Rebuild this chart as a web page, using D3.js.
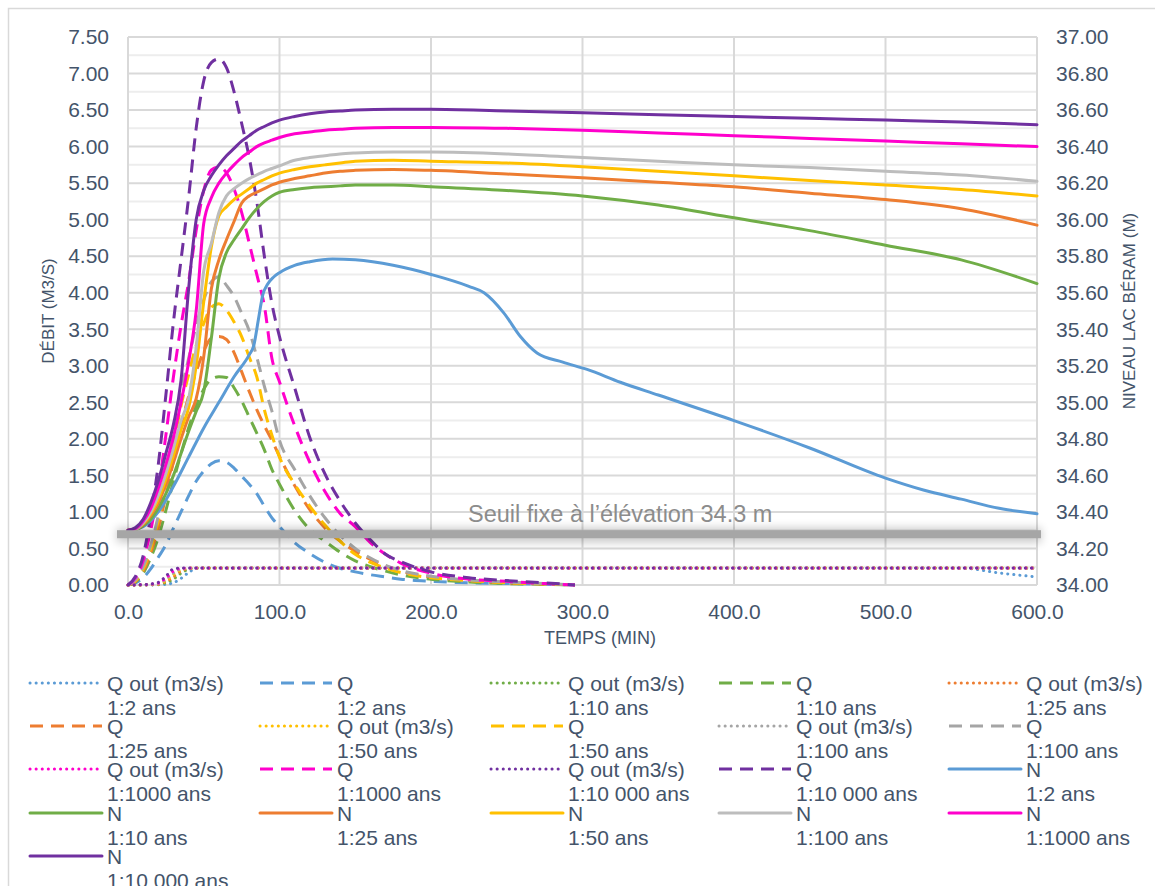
<!DOCTYPE html>
<html>
<head>
<meta charset="utf-8">
<script src="https://cdn.jsdelivr.net/npm/d3@7"></script>
<style>
  html, body { margin: 0; padding: 0; background: #fff; }
  svg { display: block; font-family: "Liberation Sans", Arial, sans-serif; }
</style>
</head>
<body>
<svg id="chart" width="1155" height="886"></svg>
<script>
// ---- Return periods ----
const periods = ["1:2 ans", "1:10 ans", "1:25 ans", "1:50 ans", "1:100 ans", "1:1000 ans", "1:10 000 ans"];

// ---- Inflow hydrographs Q (m3/s), time in minutes ----
const tQ = [0, 5, 10, 15, 20, 25, 30, 35, 40, 45, 50, 55, 60, 65, 70, 75, 80, 85, 90, 95, 100,
            110, 120, 130, 140, 150, 160, 170, 180, 200, 225, 250, 275, 295];
const qIn2     = [0, 0.03, 0.10, 0.22, 0.38, 0.55, 0.78, 1.00, 1.22, 1.42, 1.56, 1.66, 1.70, 1.68, 1.60, 1.49, 1.38, 1.25, 1.08, 0.92, 0.80,
                  0.58, 0.43, 0.31, 0.23, 0.18, 0.14, 0.11, 0.08, 0.05, 0.03, 0.02, 0.01, 0];
const qIn10    = [0, 0.04, 0.16, 0.37, 0.65, 1.02, 1.42, 1.80, 2.15, 2.45, 2.68, 2.82, 2.85, 2.84, 2.70, 2.52, 2.30, 2.08, 1.85, 1.58, 1.38,
                  1.02, 0.76, 0.60, 0.45, 0.33, 0.25, 0.19, 0.14, 0.08, 0.04, 0.02, 0.01, 0];
const qIn25    = [0, 0.05, 0.19, 0.44, 0.78, 1.22, 1.70, 2.18, 2.58, 2.92, 3.20, 3.38, 3.40, 3.36, 3.18, 2.92, 2.65, 2.40, 2.18, 1.98, 1.76,
                  1.36, 1.03, 0.78, 0.60, 0.46, 0.35, 0.26, 0.19, 0.11, 0.06, 0.03, 0.015, 0];
const qIn50    = [0, 0.06, 0.22, 0.50, 0.88, 1.38, 1.92, 2.45, 2.88, 3.28, 3.58, 3.80, 3.85, 3.76, 3.60, 3.40, 3.12, 2.85, 2.40, 2.05, 1.75,
                  1.38, 1.08, 0.82, 0.60, 0.42, 0.31, 0.23, 0.17, 0.10, 0.06, 0.03, 0.015, 0];
const qIn100   = [0, 0.07, 0.25, 0.55, 0.95, 1.50, 2.10, 2.65, 3.10, 3.55, 3.90, 4.15, 4.22, 4.10, 3.95, 3.72, 3.48, 3.12, 2.72, 2.38, 1.98,
                  1.58, 1.22, 0.92, 0.68, 0.50, 0.37, 0.27, 0.20, 0.12, 0.07, 0.04, 0.02, 0];
const qIn1000  = [0, 0.10, 0.33, 0.75, 1.30, 2.05, 2.85, 3.55, 4.15, 4.85, 5.40, 5.68, 5.72, 5.64, 5.42, 5.10, 4.68, 4.25, 3.82, 3.10, 2.78,
                  2.18, 1.68, 1.28, 0.98, 0.80, 0.58, 0.42, 0.30, 0.16, 0.08, 0.05, 0.02, 0];
const qIn10000 = [0, 0.12, 0.40, 0.95, 1.65, 2.60, 3.60, 4.45, 5.30, 6.25, 6.90, 7.15, 7.20, 7.08, 6.75, 6.32, 5.85, 5.25, 4.50, 3.85, 3.40,
                  2.70, 2.02, 1.52, 1.15, 0.85, 0.62, 0.42, 0.32, 0.18, 0.10, 0.06, 0.03, 0];

// ---- Outflow Q out (m3/s) ----
const tOut = [0, 10, 15, 20, 25, 30, 35, 40, 45, 50, 550, 575, 600];
const qOut2     = [0, 0, 0, 0.003, 0.01, 0.03, 0.09, 0.17, 0.225, 0.232, 0.232, 0.165, 0.11];
const qOut10    = [0, 0, 0.002, 0.008, 0.03, 0.08, 0.16, 0.215, 0.232, 0.232, 0.232, 0.232, 0.232];
const qOut25    = [0, 0, 0.003, 0.01, 0.045, 0.11, 0.19, 0.225, 0.232, 0.232, 0.232, 0.232, 0.232];
const qOut50    = [0, 0.002, 0.005, 0.015, 0.06, 0.14, 0.21, 0.23, 0.232, 0.232, 0.232, 0.232, 0.232];
const qOut100   = [0, 0.002, 0.007, 0.02, 0.075, 0.16, 0.22, 0.232, 0.232, 0.232, 0.232, 0.232, 0.232];
const qOut1000  = [0, 0.003, 0.01, 0.025, 0.095, 0.19, 0.228, 0.232, 0.232, 0.232, 0.232, 0.232, 0.232];
const qOut10000 = [0, 0.005, 0.015, 0.035, 0.12, 0.22, 0.232, 0.232, 0.232, 0.232, 0.232, 0.232, 0.232];

// ---- Lake level N (m) ----
const tN2 = [0, 10, 20, 30, 40, 50, 60, 70, 80, 83, 86, 89, 92, 96, 100, 110, 120, 135, 150, 175, 200, 225,
             235, 248, 259, 270, 287, 303, 325, 350, 400, 450, 500, 525, 550, 575, 600];
const n2  = [34.30, 34.32, 34.40, 34.54, 34.70, 34.86, 35.00, 35.14, 35.26, 35.31, 35.45, 35.59, 35.645, 35.685, 35.71, 35.75, 35.77, 35.785, 35.78, 35.75, 35.70, 35.635,
             35.60, 35.49, 35.36, 35.27, 35.22, 35.18, 35.11, 35.04, 34.90, 34.75, 34.585, 34.52, 34.47, 34.42, 34.39];

const tN = [0, 5, 10, 15, 20, 25, 30, 35, 40, 45, 50, 55, 60, 65, 70, 75, 80, 85, 90, 95, 100,
            110, 120, 130, 140, 150, 175, 200, 250, 300, 350, 400, 450, 500, 550, 600];
const n10    = [34.30, 34.303, 34.325, 34.36, 34.42, 34.50, 34.60, 34.72, 34.84, 34.95, 35.06, 35.35, 35.68, 35.82, 35.89, 35.95, 36.01, 36.06, 36.10, 36.13, 36.15,
                36.165, 36.175, 36.18, 36.185, 36.19, 36.19, 36.18, 36.16, 36.13, 36.08, 36.01, 35.94, 35.86, 35.78, 35.65];
const n25    = [34.30, 34.305, 34.33, 34.38, 34.45, 34.55, 34.67, 34.80, 34.92, 35.02, 35.25, 35.62, 35.78, 35.89, 35.99, 36.09, 36.13, 36.15, 36.17, 36.19, 36.205,
                36.225, 36.24, 36.255, 36.265, 36.27, 36.275, 36.27, 36.25, 36.23, 36.205, 36.18, 36.145, 36.11, 36.06, 35.97];
const n50    = [34.30, 34.305, 34.335, 34.39, 34.47, 34.58, 34.71, 34.85, 34.97, 35.20, 35.55, 35.85, 36.02, 36.07, 36.11, 36.14, 36.17, 36.20, 36.22, 36.24, 36.255,
                36.275, 36.29, 36.30, 36.31, 36.32, 36.325, 36.32, 36.31, 36.29, 36.265, 36.24, 36.215, 36.19, 36.165, 36.13];
const n100   = [34.30, 34.305, 34.34, 34.40, 34.49, 34.61, 34.75, 34.90, 35.02, 35.30, 35.72, 35.87, 36.04, 36.13, 36.17, 36.20, 36.225, 36.245, 36.265, 36.28, 36.295,
                36.325, 36.34, 36.35, 36.36, 36.365, 36.37, 36.37, 36.36, 36.34, 36.32, 36.30, 36.285, 36.265, 36.245, 36.21];
const n1000  = [34.30, 34.31, 34.35, 34.42, 34.53, 34.66, 34.81, 35.00, 35.22, 35.50, 35.98, 36.12, 36.20, 36.255, 36.30, 36.34, 36.37, 36.40, 36.42, 36.435, 36.45,
                36.47, 36.48, 36.49, 36.495, 36.50, 36.505, 36.505, 36.50, 36.49, 36.475, 36.46, 36.445, 36.43, 36.415, 36.40];
const n10000 = [34.30, 34.315, 34.36, 34.45, 34.57, 34.72, 34.88, 35.12, 35.62, 36.00, 36.16, 36.24, 36.30, 36.35, 36.39, 36.43, 36.46, 36.49, 36.51, 36.53, 36.545,
                36.565, 36.58, 36.59, 36.595, 36.60, 36.605, 36.605, 36.595, 36.585, 36.575, 36.565, 36.555, 36.545, 36.535, 36.52];

// ---- Axis ticks ----
const xTicks  = [0, 100, 200, 300, 400, 500, 600];
const yLTicks = d3.range(0, 7.51, 0.5);
const yRTicks = d3.range(34, 37.001, 0.2);
const seuil = 34.3;

// ---- Colours per return period ----
const palette = ["#5B9BD5", "#70AD47", "#ED7D31", "#FFC000", "#A5A5A5", "#FF00CC", "#7030A0"];
const paletteN = ["#5B9BD5", "#70AD47", "#ED7D31", "#FFC000", "#BDBDBD", "#FF00CC", "#7030A0"];

const qIn  = [qIn2, qIn10, qIn25, qIn50, qIn100, qIn1000, qIn10000];
const qOut = [qOut2, qOut10, qOut25, qOut50, qOut100, qOut1000, qOut10000];
const nLev = [n2, n10, n25, n50, n100, n1000, n10000];

// Series in drawing order: for each period, Q out then Q; then every N
const series = [];
periods.forEach((p, i) => {
  series.push({ name: "Q out (m3/s)", period: p, kind: "out", color: palette[i],
                pts: tOut.map((t, k) => [t, qOut[i][k]]), axis: "L" });
  series.push({ name: "Q", period: p, kind: "in", color: palette[i],
                pts: tQ.map((t, k) => [t, qIn[i][k]]), axis: "L" });
});
periods.forEach((p, i) => {
  const tt = i === 0 ? tN2 : tN;
  series.push({ name: "N", period: p, kind: "lev", color: paletteN[i],
                pts: tt.map((t, k) => [t, nLev[i][k]]), axis: "R" });
});

const styleOf = {
  out: { dash: "0.1,6", cap: "round", w: 3 },
  in:  { dash: "13,8", cap: "butt", w: 3 },
  lev: { dash: null, cap: "round", w: 3 }
};

// ---- Layout ----
const svg = d3.select("#chart");
const L = 128, R = 1037, T = 37, B = 585;
const x  = d3.scaleLinear([0, 600], [L, R]);
const yL = d3.scaleLinear([0, 7.5], [B, T]);
const yR = d3.scaleLinear([34, 37], [B, T]);
const txt = "#44546A";

// outer chart border
svg.append("rect").attr("x", 8.5).attr("y", 8.5).attr("width", 1160).attr("height", 900)
  .attr("fill", "none").attr("stroke", "#D9D9D9").attr("stroke-width", 1.5);

// minor horizontal gridlines
const minor = d3.range(0.25, 7.5, 0.5);
svg.append("g").selectAll("line").data(minor).join("line")
  .attr("x1", L).attr("x2", R).attr("y1", d => yL(d)).attr("y2", d => yL(d))
  .attr("stroke", "#EDEDED").attr("stroke-width", 2);
// major horizontal gridlines
svg.append("g").selectAll("line").data(yLTicks).join("line")
  .attr("x1", L).attr("x2", R).attr("y1", d => yL(d)).attr("y2", d => yL(d))
  .attr("stroke", "#D9D9D9").attr("stroke-width", 2);
// vertical gridlines
svg.append("g").selectAll("line").data(xTicks).join("line")
  .attr("x1", d => x(d)).attr("x2", d => x(d)).attr("y1", T).attr("y2", B)
  .attr("stroke", "#D9D9D9").attr("stroke-width", 2);

// axes (labels only)
const fmt2 = d3.format(".2f"), fmt1 = d3.format(".1f");
const gx = svg.append("g").attr("transform", `translate(0,${B})`)
  .call(d3.axisBottom(x).tickValues(xTicks).tickFormat(fmt1).tickSize(0).tickPadding(19));
const gl = svg.append("g").attr("transform", `translate(${L},0)`)
  .call(d3.axisLeft(yL).tickValues(yLTicks).tickFormat(fmt2).tickSize(0).tickPadding(19));
const gr = svg.append("g").attr("transform", `translate(${R},0)`)
  .call(d3.axisRight(yR).tickValues(yRTicks).tickFormat(fmt2).tickSize(0).tickPadding(19));
[gx, gl, gr].forEach(g => {
  g.select(".domain").remove();
  g.selectAll("text").attr("fill", txt).style("font-size", "21px")
    .style("font-family", "'Liberation Sans', Arial, sans-serif");
});

// axis titles
svg.append("text").attr("x", 600).attr("y", 644).attr("text-anchor", "middle")
  .attr("fill", txt).style("font-size", "18px").text("TEMPS (MIN)");
svg.append("text").attr("transform", `translate(54,${(T + B) / 2}) rotate(-90)`)
  .attr("text-anchor", "middle").attr("fill", txt).style("font-size", "17px").text("DÉBIT (M3/S)");
svg.append("text").attr("transform", `translate(1135,${(T + B) / 2}) rotate(-90)`)
  .attr("text-anchor", "middle").attr("fill", txt).style("font-size", "17px").text("NIVEAU LAC BÉRAM (M)");

// series
const plot = svg.append("g");
series.forEach(s => {
  const ys = s.axis === "L" ? yL : yR;
  const st = styleOf[s.kind];
  const line = d3.line().x(d => x(d[0])).y(d => ys(d[1])).curve(d3.curveMonotoneX);
  plot.append("path").datum(s.pts).attr("d", line)
    .attr("fill", "none").attr("stroke", s.color).attr("stroke-width", st.w)
    .attr("stroke-linecap", st.cap).attr("stroke-linejoin", "round")
    .attr("stroke-dasharray", st.dash);
});

// fixed spillway sill at 34.3 m
const defs = svg.append("defs");
defs.append("filter").attr("id", "soft").attr("x", "-5%").attr("y", "-300%")
  .attr("width", "110%").attr("height", "700%")
  .append("feGaussianBlur").attr("stdDeviation", 5);
const sy = yR(seuil);
svg.append("rect").attr("x", L - 11).attr("y", sy - 2).attr("width", R - L + 15).attr("height", 14)
  .attr("fill", "#000").attr("opacity", 0.22).attr("filter", "url(#soft)");
svg.append("rect").attr("x", L - 11).attr("y", sy).attr("width", R - L + 15).attr("height", 8)
  .attr("fill", "#A6A6A6");
svg.append("text").attr("x", 468).attr("y", sy - 8).attr("fill", "#8C8C8C")
  .style("font-size", "23.5px").text("Seuil fixe à l’élévation " + seuil + " m");

// legend: 5 columns, row-major
const colX = [30, 260, 491, 719, 949];
const rowY = [683, 726, 769, 813, 856];
const lg = svg.append("g");
series.forEach((s, i) => {
  const cx = colX[i % 5], cy = rowY[Math.floor(i / 5)];
  const st = styleOf[s.kind];
  lg.append("line").attr("x1", cx).attr("x2", cx + 72).attr("y1", cy).attr("y2", cy)
    .attr("stroke", s.color).attr("stroke-width", st.w).attr("stroke-linecap", st.cap)
    .attr("stroke-dasharray", st.dash);
  const t = lg.append("text").attr("x", cx + 77).attr("y", cy + 8).attr("fill", txt).style("font-size", "21px");
  t.append("tspan").attr("x", cx + 77).text(s.name);
  t.append("tspan").attr("x", cx + 77).attr("dy", 24).text(s.period);
});
</script>
</body>
</html>
